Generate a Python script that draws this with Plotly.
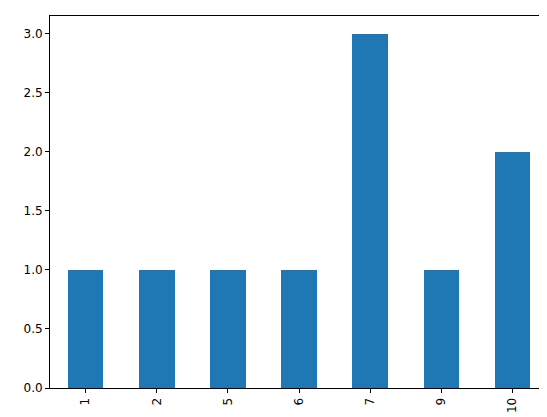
import plotly.graph_objects as go

categories = ["1", "2", "5", "6", "7", "9", "10"]
counts = [1, 1, 1, 1, 3, 1, 2]

fig = go.Figure()
fig.add_trace(go.Bar(x=categories, y=counts, width=0.5, marker_color="#1f77b4", marker_line_width=0))

axis_style = dict(showline=True, linecolor="black", linewidth=1, mirror=True, ticks="outside",
                  ticklen=4, tickcolor="black", showgrid=False, zeroline=False,
                  tickfont=dict(family="DejaVu Sans", size=12, color="black"))
fig.update_xaxes(type="category", range=[-0.5, 6.5], tickangle=-90, **axis_style)
fig.update_yaxes(range=[0, 3.15], tickvals=[0, 0.5, 1, 1.5, 2, 2.5, 3],
                 ticktext=["0.0", "0.5", "1.0", "1.5", "2.0", "2.5", "3.0"], **axis_style)
fig.update_layout(width=547, height=417, margin=dict(l=42, r=7, t=8, b=37),
                  plot_bgcolor="white", paper_bgcolor="white", showlegend=False, bargap=0)
fig.write_html("out.html")
